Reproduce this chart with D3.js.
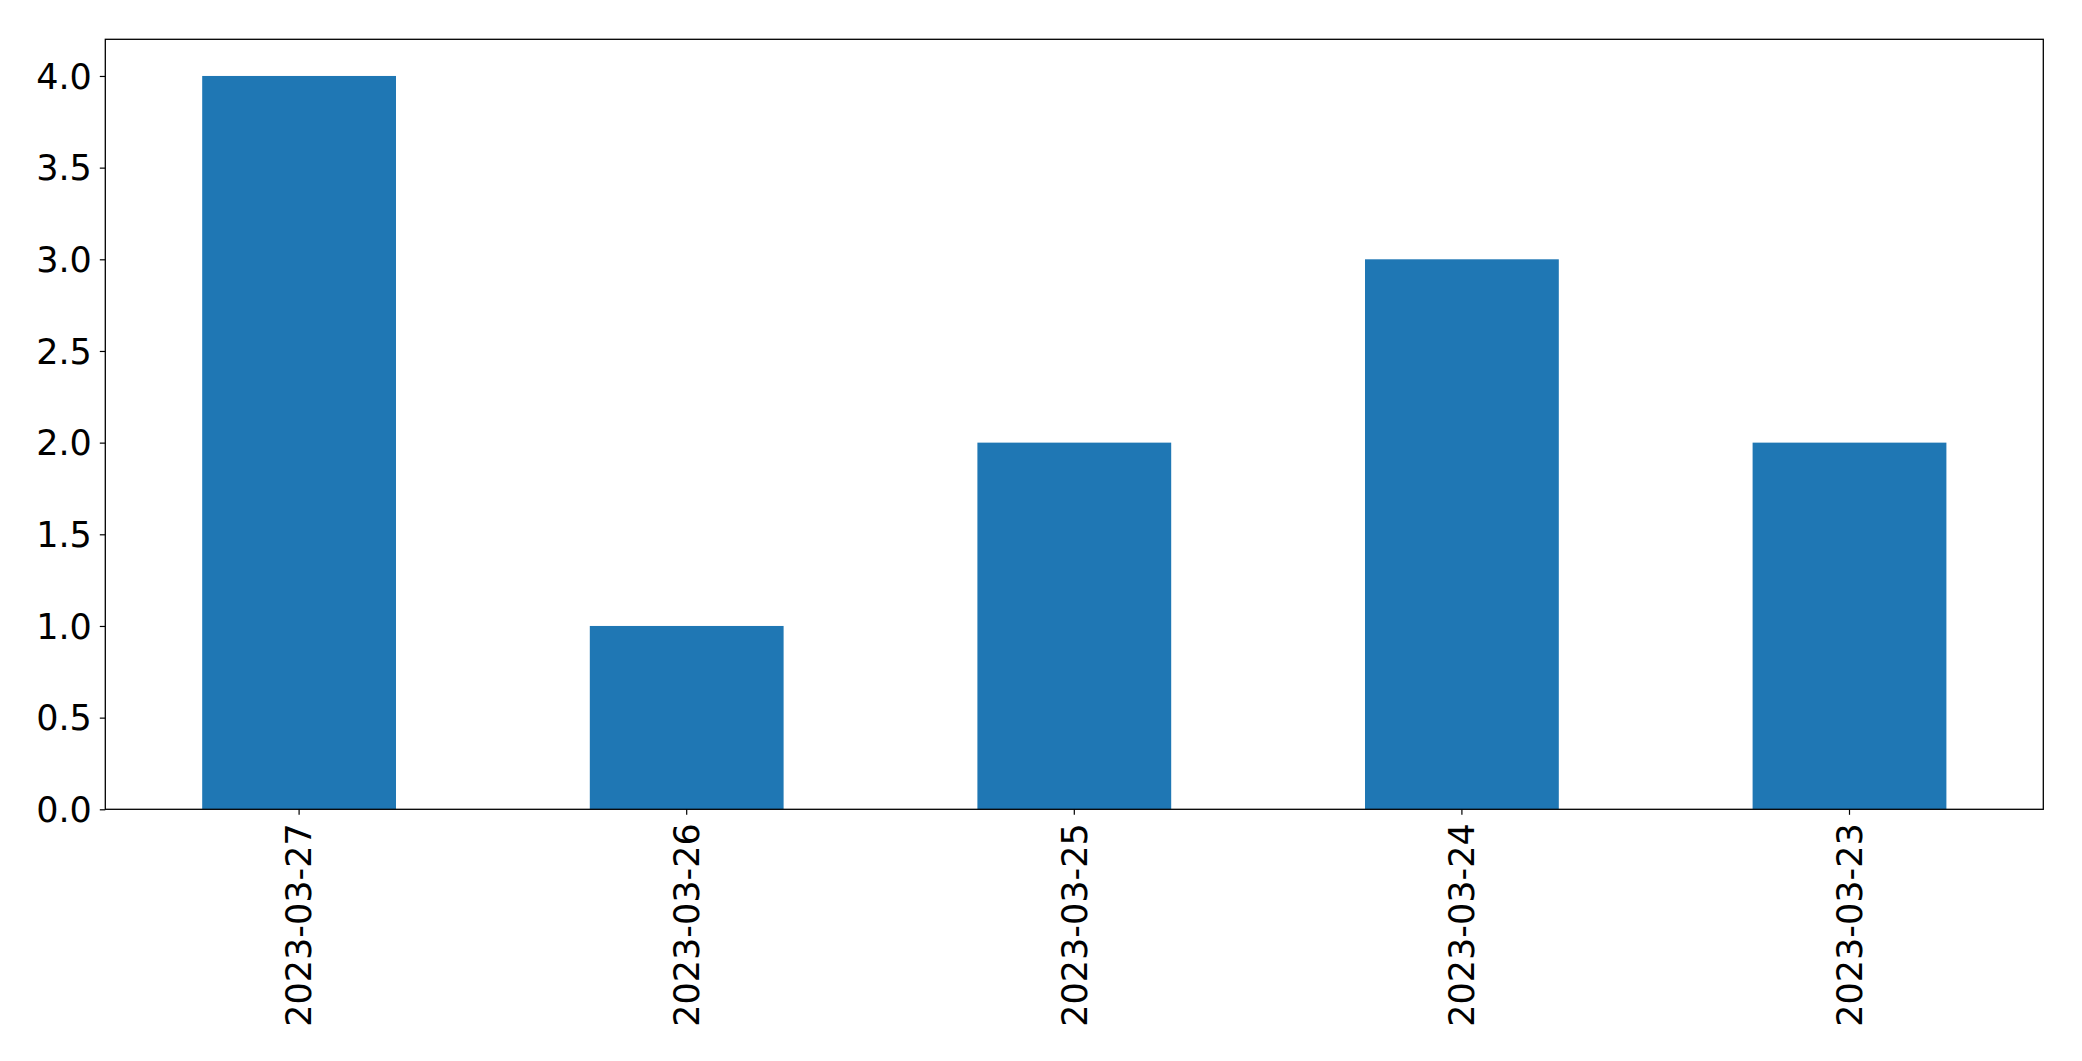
<!DOCTYPE html>
<html><head><meta charset="utf-8">
<script src="https://cdn.jsdelivr.net/npm/d3@7"></script>
<style>body{margin:0;background:#fff;} svg{display:block;}</style>
</head><body>
<script>
const categories = ["2023-03-27","2023-03-26","2023-03-25","2023-03-24","2023-03-23"];
const values = [4, 1, 2, 3, 2];
const yTicks = [0, 0.5, 1, 1.5, 2, 2.5, 3, 3.5, 4];

const W = 2082, H = 1061;
const m = {left: 105.3, right: 2043.3, top: 39.3, bottom: 809.3};
const svg = d3.select("body").append("svg").attr("width", W).attr("height", H);

const x = d3.scaleBand().domain(categories).range([m.left, m.right]).paddingInner(0.5).paddingOuter(0.25);
const y = d3.scaleLinear().domain([0, 4.2]).range([m.bottom, m.top]);

svg.append("g").selectAll("rect").data(values).join("rect")
  .attr("x", (d,i) => x(categories[i]))
  .attr("width", x.bandwidth())
  .attr("y", d => y(d))
  .attr("height", d => y(0) - y(d))
  .attr("fill", "#1f77b4");

const font = "DejaVu Sans";
const fs = 35;
const yAxis = svg.append("g").attr("transform", `translate(${m.left},0)`)
  .call(d3.axisLeft(y).tickValues(yTicks).tickFormat(d3.format(".1f")).tickSize(5.5).tickPadding(8));
yAxis.select(".domain").remove();
yAxis.selectAll("text").attr("font-family", font).attr("font-size", fs).attr("fill", "#000").attr("dy", "0.35em");
yAxis.selectAll("line").attr("stroke", "#000").attr("stroke-width", 1.2);

const xAxis = svg.append("g").attr("transform", `translate(0,${m.bottom})`)
  .call(d3.axisBottom(x).tickSize(5.5).tickPadding(0));
xAxis.select(".domain").remove();
xAxis.selectAll("line").attr("stroke", "#000").attr("stroke-width", 1.2);
xAxis.selectAll("text")
  .attr("font-family", font).attr("font-size", fs).attr("fill", "#000")
  .attr("transform", "rotate(-90)")
  .attr("text-anchor", "end")
  .attr("x", -14).attr("y", 0).attr("dy", "0.35em");

svg.append("rect").attr("x", m.left).attr("y", m.top)
  .attr("width", m.right - m.left).attr("height", m.bottom - m.top)
  .attr("fill", "none").attr("stroke", "#000").attr("stroke-width", 1.3);
</script>
</body></html>
